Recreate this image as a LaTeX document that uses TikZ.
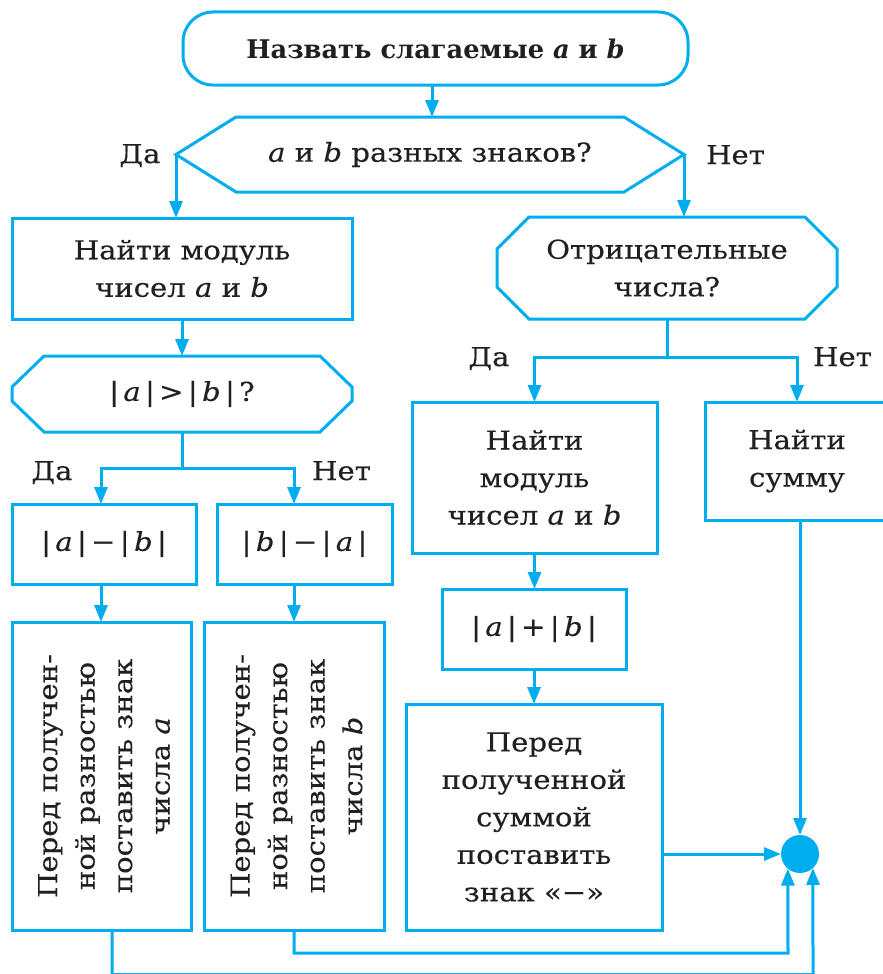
\documentclass[tikz,border=0pt]{standalone}
\usepackage{fontspec}
\setmainfont{DejaVu Serif}[FakeStretch=1.12, FakeBold=0.35, BoldFeatures={FakeStretch=1.0,FakeBold=0}, BoldItalicFeatures={FakeStretch=1.0,FakeBold=0}]
\usetikzlibrary{arrows.meta,calc}
\definecolor{fc}{HTML}{00AEEF}
\definecolor{tc}{HTML}{231F20}
\newcommand{\flowfont}{\fontsize{26}{37.5}\selectfont}
\newcommand{\titlefont}{\fontsize{25.7}{37.5}\selectfont\bfseries}
\newcommand{\octagonpath}[3]{\draw[line] ([xshift=#2]#1.north west) -- ([xshift=-#2]#1.north east) -- ([yshift=-#3]#1.north east) -- ([yshift=#3]#1.south east) -- ([xshift=-#2]#1.south east) -- ([xshift=#2]#1.south west) -- ([yshift=#3]#1.south west) -- ([yshift=-#3]#1.north west) -- cycle;}
\begin{document}
\begin{tikzpicture}[x=1pt,y=-1pt,
  line/.style={draw=fc, line width=3pt},
  arr/.style={line, -{Triangle[length=17pt,width=13pt]}},
  box/.style={draw=fc, line width=3pt, rectangle, inner sep=0pt, outer sep=0pt, align=center, text=tc, font=\flowfont},
  ghost/.style={draw=none, rectangle, inner sep=0pt, outer sep=0pt, align=center, text=tc, font=\flowfont},
  txt/.style={inner sep=0pt, outer sep=0pt, align=center, text=tc, font=\flowfont},
  lbl/.style={text=tc, font=\flowfont, inner sep=0pt, anchor=base},
]
\useasboundingbox (0,0) rectangle (883,974);
\clip (0,0) rectangle (883,974);
\fill[white] (0,0) rectangle (883,974);

% top terminal
\node[box, rounded corners=30pt, minimum width=505pt, minimum height=73pt, font=\titlefont] (t) at (435.5,48.5) {Назвать слагаемые \textit{a} и \textit{b}};

% first decision (hexagon)
\node[ghost, minimum width=508pt, minimum height=75pt] (q1) at (430,154.5) {\textit{a} и \textit{b} разных знаков?};
\draw[line] (q1.west) -- ([xshift=60pt]q1.north west) -- ([xshift=-60pt]q1.north east) -- (q1.east) -- ([xshift=-60pt]q1.south east) -- ([xshift=60pt]q1.south west) -- cycle;

% left column
\node[box, minimum width=340pt, minimum height=101pt] (m1) at (182,268.5) {Найти модуль\\чисел \textit{a} и \textit{b}};
\node[ghost, minimum width=340pt, minimum height=76pt] (q2) at (182,394) {|\,\textit{a}\,|\,>\,|\,\textit{b}\,|\,?};
\octagonpath{q2}{32pt}{31pt}
\node[box, minimum width=184pt, minimum height=80pt] (d1) at (104,544) {|\,\textit{a}\,|\,−\,|\,\textit{b}\,|};
\node[box, minimum width=175pt, minimum height=80pt] (d2) at (304.5,544) {|\,\textit{b}\,|\,−\,|\,\textit{a}\,|};
\node[box, minimum width=179pt, minimum height=308pt] (p1) at (101.5,776) {};
\node[txt, rotate=90] (p1t) at (104,776) {Перед получен-\\ной разностью\\поставить знак\\числа \textit{a}};
\node[box, minimum width=180pt, minimum height=308pt] (p2) at (294,776) {};
\node[txt, rotate=90] (p2t) at (296.5,776) {Перед получен-\\ной разностью\\поставить знак\\числа \textit{b}};

% right column
\node[ghost, minimum width=340pt, minimum height=102pt] (q3) at (667,268) {Отрицательные\\числа?};
\octagonpath{q3}{32pt}{32pt}
\node[box, minimum width=245pt, minimum height=151pt] (m2) at (534.5,477.5) {Найти\\модуль\\чисел \textit{a} и \textit{b}};
\node[box, minimum width=184pt, minimum height=118pt] (s1) at (797,461) {Найти\\сумму};
\node[box, minimum width=184pt, minimum height=80pt] (ab) at (534,629) {|\,\textit{a}\,|\,+\,|\,\textit{b}\,|};
\node[box, minimum width=256pt, minimum height=226pt] (p3) at (534,817) {Перед\\полученной\\суммой\\поставить\\знак «−»};

% junction circle
\node[circle, fill=fc, draw=none, minimum size=38pt, inner sep=0pt, outer sep=0pt] (c) at (800,854) {};

% labels
\node[lbl] (l1) at (140,163) {Да};
\node[lbl] (l2) at (735.5,164) {Нет};
\node[lbl] (l3) at (52,480) {Да};
\node[lbl] (l4) at (341.5,480) {Нет};
\node[lbl] (l5) at (489,366) {Да};
\node[lbl] (l6) at (842.5,366) {Нет};

% connectors
\draw[arr] (t.south -| 432,0) -- (432,117);
\draw[arr] (q1.west) -- (q1.west |- m1.north);
\draw[arr] (q1.east) -- (q1.east |- q3.north);
\draw[arr] (m1.south) -- (q2.north);
\coordinate (j1) at (182,468);
\draw[line] (q2.south) -- (j1);
\draw[arr] (j1) -| ([xshift=-3pt]d1.north);
\draw[arr] (j1) -| ([xshift=-10.5pt]d2.north);
\draw[arr] ([xshift=-3pt]d1.south) -- ([xshift=-3pt]d1.south |- p1.north);
\draw[arr] ([xshift=-10.5pt]d2.south) -- (p2.north);

\coordinate (j2) at (667,357);
\draw[line] (q3.south) -- (j2);
\draw[arr] (j2) -| (m2.north);
\draw[arr] (j2) -| (s1.north);
\draw[arr] (m2.south) -- (m2.south |- ab.north);
\draw[arr] (ab.south) -- (ab.south |- p3.north);
\draw[arr] (p3.east |- c.west) -- (c.west);
\draw[arr] (s1.south -| c.north) -- (c.north);

\coordinate (b2) at (788,953);
\draw[arr] (p2.south) |- (b2) -- (c.230.8);
\coordinate (b1) at (813,974.5);
\draw[arr] ([xshift=10.5pt]p1.south) |- (b1) -- (c.313.2);
\end{tikzpicture}
\end{document}
